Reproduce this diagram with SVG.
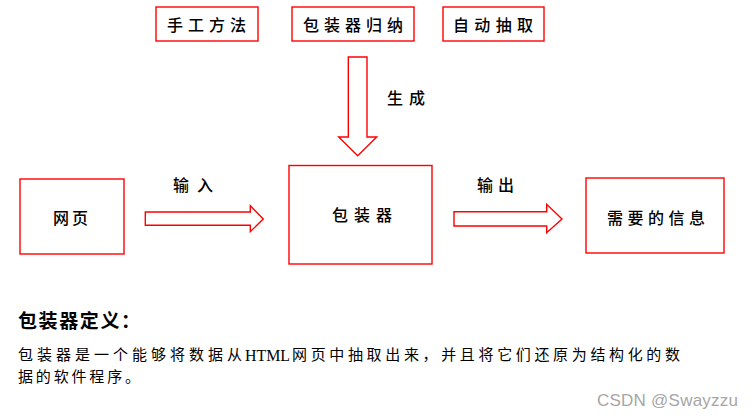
<svg xmlns="http://www.w3.org/2000/svg" width="753" height="420" viewBox="0 0 753 420">
  <style>
    .box { fill: #ffffff; stroke: #ff0000; stroke-width: 1.4; }
    .arrow { fill: #ffffff; stroke: #ff0000; stroke-width: 1.4; stroke-linejoin: miter; }
    .lbl { font-family: "Liberation Serif", "Noto Sans CJK SC", serif; font-size: 16px; font-weight: 500; fill: #000000; dominant-baseline: central; }
    .title { font-family: "Liberation Serif", "Noto Sans CJK SC", serif; font-size: 19px; font-weight: bold; fill: #000000; dominant-baseline: central; }
    .body { font-family: "Liberation Serif", "Noto Sans CJK SC", serif; font-size: 15px; fill: #000000; dominant-baseline: central; }
    .wm { font-family: "Liberation Sans", Arial, sans-serif; font-size: 17px; fill: #a6a6a6; dominant-baseline: central; }
  </style>
  <rect width="753" height="420" fill="#ffffff"/>

  <g id="connectors">
    <polygon class="arrow" points="348.3,57 367,57 367,137 376.7,137 357.7,155.7 338.7,137 348.3,137"/>
    <polygon class="arrow" points="145.3,212 250.3,212 250.3,205.7 263.3,219 250.3,231.7 250.3,225.3 145.3,225.3"/>
    <polygon class="arrow" points="454,211.7 546.7,211.7 546.7,204.3 562,219 546.7,232.7 546.7,226 454,226"/>
    <text class="lbl" x="387" y="98" textLength="38" lengthAdjust="spacing">生成</text>
    <text class="lbl" x="173" y="185" textLength="40" lengthAdjust="spacing">输入</text>
    <text class="lbl" x="477" y="185" textLength="37" lengthAdjust="spacing">输出</text>
  </g>

  <g id="manual">
    <rect class="box" x="156" y="7" width="102" height="34"/>
    <text class="lbl" x="167" y="25" textLength="79" lengthAdjust="spacing">手工方法</text>
  </g>
  <g id="induction">
    <rect class="box" x="292" y="7" width="122" height="34"/>
    <text class="lbl" x="303" y="25" textLength="100" lengthAdjust="spacing">包装器归纳</text>
  </g>
  <g id="auto">
    <rect class="box" x="443" y="7" width="101" height="34"/>
    <text class="lbl" x="453" y="25" textLength="80" lengthAdjust="spacing">自动抽取</text>
  </g>
  <g id="webpage">
    <rect class="box" x="20" y="179" width="104" height="75"/>
    <text class="lbl" x="53" y="218" textLength="35" lengthAdjust="spacing">网页</text>
  </g>
  <g id="wrapper">
    <rect class="box" x="289" y="165.5" width="143" height="98.5"/>
    <text class="lbl" x="332" y="215" textLength="60" lengthAdjust="spacing">包装器</text>
  </g>
  <g id="info">
    <rect class="box" x="586" y="178" width="138" height="75"/>
    <text class="lbl" x="607" y="218" textLength="98" lengthAdjust="spacing">需要的信息</text>
  </g>

  <text class="title" x="18" y="321" textLength="122" lengthAdjust="spacing">包装器定义：</text>
  <text class="body" y="355"><tspan x="18" textLength="224" lengthAdjust="spacing">包装器是一个能够将数据从</tspan><tspan x="245" textLength="45" lengthAdjust="spacingAndGlyphs" font-size="16">HTML</tspan><tspan x="292" textLength="388" lengthAdjust="spacing">网页中抽取出来，并且将它们还原为结构化的数</tspan></text>
  <text class="body" x="18" y="377" textLength="122" lengthAdjust="spacing">据的软件程序。</text>
  <text class="wm" x="597" y="400" textLength="141" lengthAdjust="spacing">CSDN @Swayzzu</text>
</svg>
